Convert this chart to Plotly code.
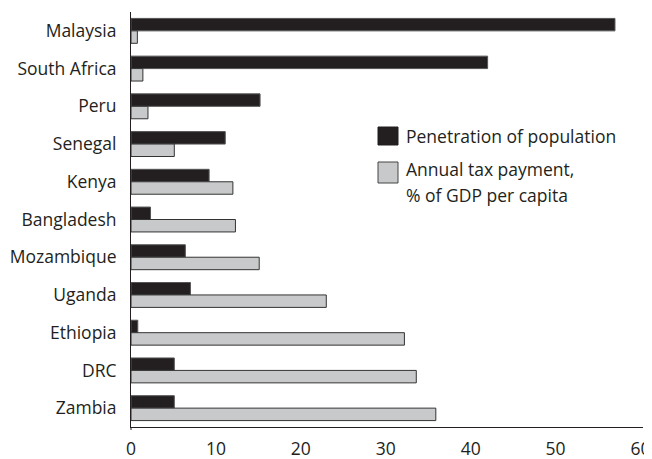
import plotly.graph_objects as go

countries = ["Malaysia", "South Africa", "Peru", "Senegal", "Kenya", "Bangladesh",
             "Mozambique", "Uganda", "Ethiopia", "DRC", "Zambia"]
penetration = [57.0, 42.0, 15.2, 11.1, 9.2, 2.3, 6.4, 7.0, 0.8, 5.1, 5.1]
tax_payment = [0.75, 1.4, 2.0, 5.1, 12.0, 12.3, 15.1, 23.0, 32.2, 33.6, 35.9]
x_ticks = [0, 10, 20, 30, 40, 50, 60]

FONT = "Open Sans"
FS = 17.5
BLACK = "#231f20"
GREY = "#c8c9ca"

fig = go.Figure()
fig.add_trace(go.Bar(y=countries, x=penetration, orientation="h", name="Penetration of population",
                     marker=dict(color=BLACK, line=dict(color="#555555", width=1)), showlegend=False))
fig.add_trace(go.Bar(y=countries, x=tax_payment, orientation="h", name="Annual tax payment, % of GDP per capita",
                     marker=dict(color=GREY, line=dict(color="#333333", width=1)), showlegend=False))

# page body has an 8px margin, so the figure is laid out in page coords minus 8
OFF = 8
W, H = 652 - OFF, 459 - OFF
left, right, top, bottom = 131, 643, 12, 427  # plot area in page pixels
ml, mr, mt, mb = left - OFF, W - (right - OFF), top - OFF, H - (bottom - OFF)
pw, ph = right - left, bottom - top

def px(x):
    return (x - left) / pw

def py(y):
    return (bottom - y) / ph

shapes = [
    dict(type="rect", xref="paper", yref="paper", x0=px(378), x1=px(398), y0=py(145), y1=py(127),
         fillcolor=BLACK, line=dict(color=BLACK, width=1)),
    dict(type="rect", xref="paper", yref="paper", x0=px(378), x1=px(398), y0=py(183), y1=py(162),
         fillcolor=GREY, line=dict(color="#444444", width=1)),
    # short extension of the y axis line below the x axis, as in the reference
    dict(type="line", xref="paper", yref="paper", x0=0, x1=0, y0=py(430), y1=0,
         line=dict(color=BLACK, width=1)),
]
annotations = [
    dict(xref="paper", yref="paper", x=px(404), y=py(136), text="Penetration of population",
         showarrow=False, xanchor="left", yanchor="middle", font=dict(family=FONT, size=FS, color=BLACK)),
    dict(xref="paper", yref="paper", x=px(404), y=py(169), text="Annual tax payment,",
         showarrow=False, xanchor="left", yanchor="middle", font=dict(family=FONT, size=FS, color=BLACK)),
    dict(xref="paper", yref="paper", x=px(404), y=py(195), text="% of GDP per capita",
         showarrow=False, xanchor="left", yanchor="middle", font=dict(family=FONT, size=FS, color=BLACK)),
]

fig.update_layout(
    width=W, height=H,
    margin=dict(l=ml, r=mr, t=mt, b=mb, pad=0, autoexpand=False),
    paper_bgcolor="white", plot_bgcolor="white",
    barmode="group", bargap=0.34, bargroupgap=0,
    font=dict(family=FONT, size=FS, color=BLACK),
    shapes=shapes, annotations=annotations,
    xaxis=dict(range=[0, 60.3], tickvals=x_ticks, showgrid=False, zeroline=False, automargin=False,
               showline=True, linecolor=BLACK, linewidth=1, ticks="", ticklabelstandoff=6,
               tickfont=dict(family=FONT, size=FS), fixedrange=True),
    yaxis=dict(autorange="reversed", showgrid=False, zeroline=False, showline=True, automargin=False,
               linecolor=BLACK, linewidth=1, ticks="", ticklabelstandoff=10,
               tickfont=dict(family=FONT, size=FS), fixedrange=True),
)

fig.write_html("out.html")
